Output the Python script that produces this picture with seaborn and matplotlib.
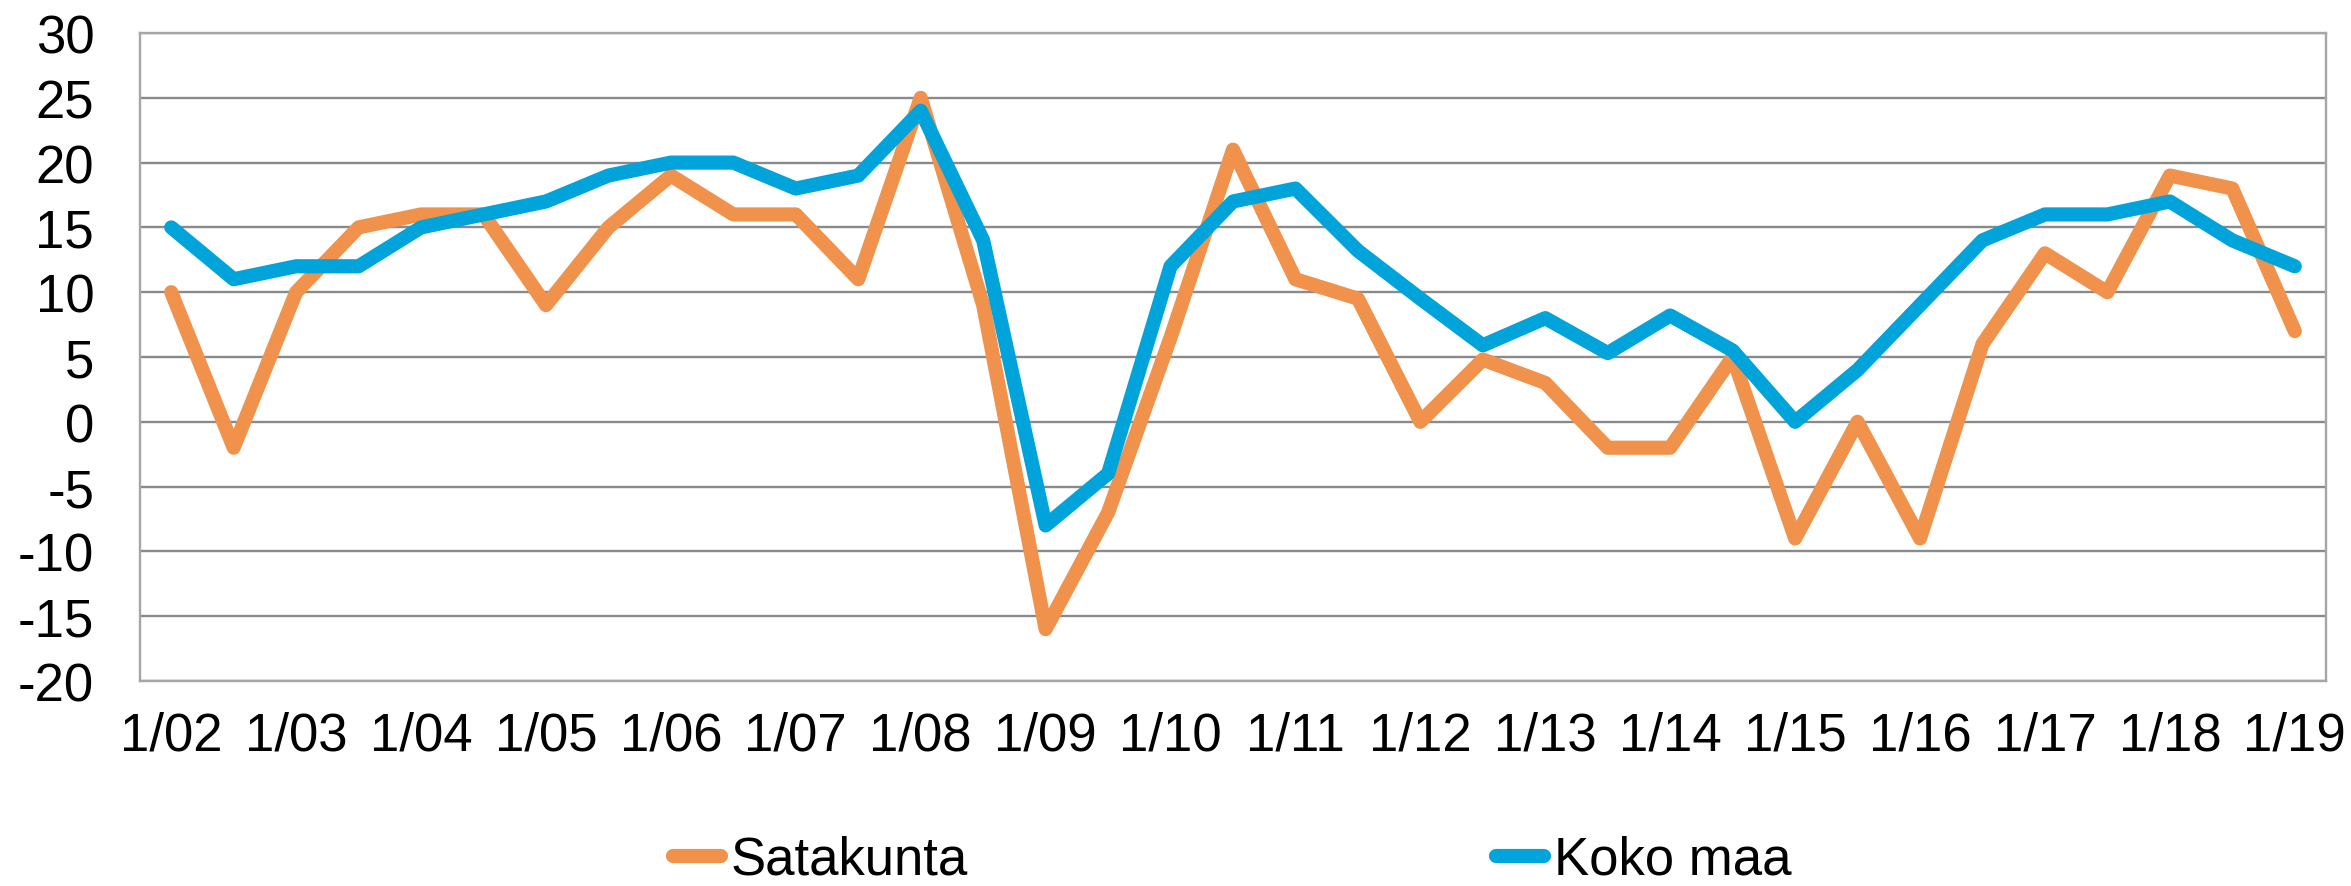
import pandas as pd
import matplotlib
matplotlib.use("Agg")
import matplotlib.pyplot as plt
import seaborn as sns

# half-year observations, 1/02 ... 1/19
satakunta = [10, -2, 10, 15, 16, 16, 9, 15, 19, 16, 16, 11, 25, 9, -16, -7, 6.5, 21,
             11, 9.5, 0, 4.8, 3, -2, -2, 5, -9, 0, -9, 6, 13, 10, 19, 18, 7]
koko_maa = [15, 11, 12, 12, 15, 16, 17, 19, 20, 20, 18, 19, 24, 14, -8, -4, 12, 17,
            18, 13.2, 9.5, 5.9, 8, 5.3, 8.2, 5.5, 0, 4, 9, 14, 16, 16, 17, 14, 12]
year_labels = ["1/%02d" % y for y in range(2, 20)]
series_names = ["Satakunta", "Koko maa"]
colors = ["#F0924C", "#00A4DA"]

n = len(satakunta)
df = pd.DataFrame({
    "t": list(range(n)) * 2,
    "value": satakunta + koko_maa,
    "series": [series_names[0]] * n + [series_names[1]] * n,
})

sns.set_style("white")
plt.rcParams["font.family"] = ["Liberation Sans", "DejaVu Sans"]
plt.rcParams["axes.unicode_minus"] = False

fig = plt.figure(figsize=(23.51, 8.87), dpi=100)
ax = fig.add_axes([140 / 2351, 1 - 682 / 887, (2326 - 140) / 2351, (682 - 34) / 887])

lw = 10.2
sns.lineplot(data=df, x="t", y="value", hue="series", palette=colors,
             linewidth=lw, ax=ax, legend=False)
for line in ax.get_lines():
    line.set_solid_capstyle("round")
    line.set_solid_joinstyle("round")

ax.set_xlim(-0.5, n - 0.5)
ax.set_ylim(-20, 30)
ax.set_yticks(range(-20, 31, 5))
ax.set_xticks(range(0, n, 2))
ax.set_xticklabels(year_labels)
ax.set_xlabel("")
ax.set_ylabel("")
ax.tick_params(axis="x", length=0, pad=21, labelsize=38, labelcolor="black")
ax.tick_params(axis="y", length=0, pad=33, labelsize=38, labelcolor="black")
ax.yaxis.grid(True, color="#8A8A8A", linewidth=1.7)
ax.xaxis.grid(False)
ax.set_axisbelow(True)
for s in ax.spines.values():
    s.set_visible(True)
    s.set_color("#A6A6A6")
    s.set_linewidth(1.7)

handles = []
for name, c in zip(series_names, colors):
    h, = ax.plot([], [], color=c, linewidth=lw, solid_capstyle="round", label=name)
    handles.append(h)
leg = fig.legend(handles=handles, loc="center left", bbox_to_anchor=(673 / 2351, 1 - 861 / 887),
                 ncol=2, frameon=False, fontsize=38, handlelength=0.9, handletextpad=0.2,
                 columnspacing=10.0, borderpad=0, borderaxespad=0)
for t in leg.get_texts():
    t.set_color("black")

fig.savefig("out.png", dpi=100)
